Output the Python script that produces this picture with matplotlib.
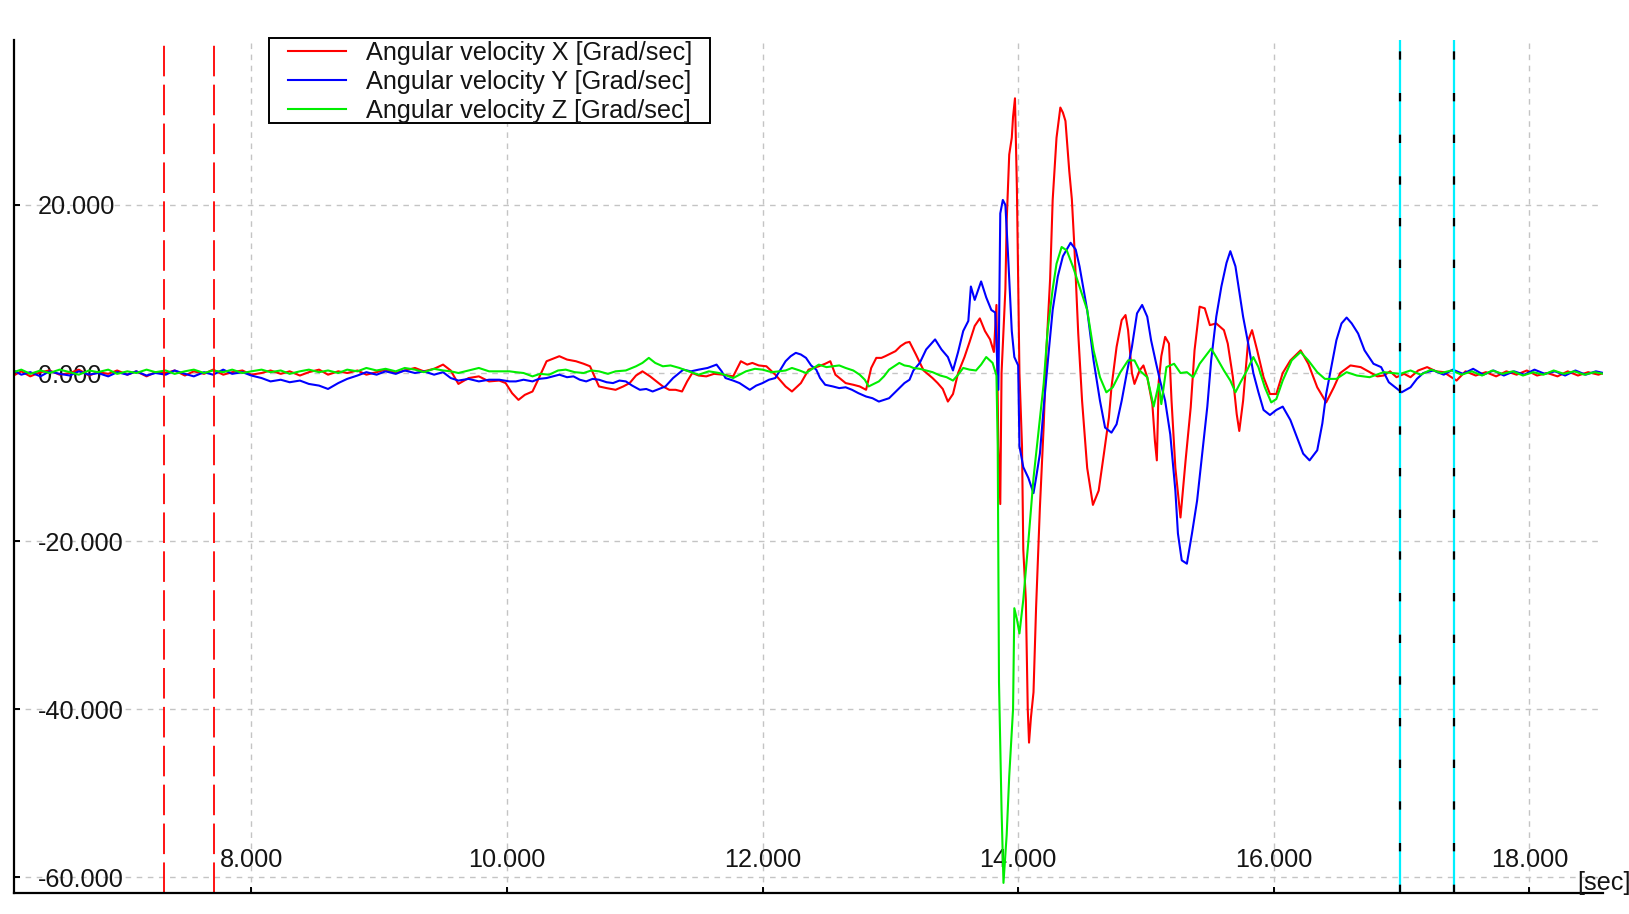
import matplotlib
matplotlib.use("Agg")
import matplotlib.pyplot as plt
from matplotlib.patches import Rectangle

plt.rcParams['font.family'] = ['Liberation Sans', 'DejaVu Sans']
plt.rcParams['lines.scale_dashes'] = False

# ---- data ----
quiet_t = [6.14, 6.20, 6.27, 6.35, 6.42, 6.50, 6.58, 6.65, 6.73, 6.80, 6.88, 6.95, 7.03,
           7.10, 7.18, 7.25, 7.33, 7.40, 7.48, 7.55, 7.63, 7.70, 7.78, 7.85, 7.93, 8.00,
           8.08, 8.15, 8.23, 8.30, 8.38, 8.45, 8.53, 8.60, 8.68, 8.75, 8.83, 8.90, 8.98,
           9.05, 9.13, 9.20, 9.28, 9.35, 9.43, 9.50, 9.56, 9.62, 9.70, 9.78, 9.86, 9.94]

x_quiet = [-0.3, 0.2, -0.4, 0.1, 0.3, -0.2, 0.0, 0.4, -0.3, 0.1, -0.1, 0.3, -0.2,
           0.2, -0.4, 0.1, 0.0, 0.3, -0.3, 0.2, -0.1, 0.4, -0.2, 0.1, 0.3, -0.2,
           0.0, 0.3, -0.1, 0.2, -0.3, 0.1, 0.4, -0.2, 0.2, 0.0, 0.3, -0.2, 0.1,
           0.4, 0.0, 0.3, 0.6, 0.2, 0.5, 1.0, 0.3, -1.3, -0.6, -0.4, -1.0, -0.9]
y_quiet = [0.3, -0.2, 0.1, -0.4, 0.2, -0.1, -0.3, 0.2, -0.2, 0.0, -0.4, 0.1, -0.2,
           0.2, -0.3, 0.0, -0.2, 0.3, -0.1, -0.4, 0.1, -0.2, 0.4, -0.1, 0.1, -0.3,
           -0.6, -1.0, -0.8, -1.1, -0.9, -1.3, -1.5, -1.9, -1.2, -0.7, -0.3, 0.1, -0.2,
           0.2, -0.1, 0.3, 0.0, 0.2, -0.2, 0.1, -0.6, -0.9, -0.7, -1.0, -0.8, -0.8]
z_quiet = [0.1, 0.4, -0.1, 0.3, 0.0, 0.4, 0.1, -0.2, 0.3, 0.1, 0.4, -0.1, 0.2,
           0.0, 0.4, 0.1, 0.3, -0.1, 0.2, 0.4, 0.0, 0.3, 0.1, 0.4, 0.0, 0.2,
           0.4, 0.1, 0.3, -0.1, 0.2, 0.4, 0.1, 0.3, 0.0, 0.4, 0.2, 0.6, 0.3,
           0.5, 0.2, 0.6, 0.4, 0.1, 0.5, 0.3, 0.2, 0.0, 0.3, 0.6, 0.2, 0.2]

x_active_t = [9.99, 10.04, 10.09, 10.14, 10.20, 10.25, 10.31, 10.36, 10.41, 10.47, 10.54, 10.60,
              10.65, 10.72, 10.78, 10.85, 10.91, 10.96, 11.01, 11.06, 11.12, 11.17, 11.22, 11.27,
              11.32, 11.37, 11.41, 11.45, 11.50, 11.56, 11.62, 11.69, 11.77, 11.83, 11.88, 11.92,
              11.97, 12.03, 12.10, 12.14, 12.18, 12.23, 12.30, 12.36, 12.40, 12.44, 12.49, 12.53,
              12.57, 12.61, 12.65, 12.71, 12.76, 12.81, 12.85, 12.89, 12.93, 12.96, 13.00, 13.04,
              13.08, 13.12, 13.15, 13.20, 13.26, 13.33, 13.37, 13.41, 13.45, 13.49, 13.53, 13.58,
              13.62, 13.66, 13.70, 13.74, 13.78, 13.81, 13.83, 13.845, 13.86, 13.87, 13.90, 13.91,
              13.93, 13.95, 13.96, 13.975, 13.99, 14.01, 14.03, 14.04, 14.06, 14.075, 14.085, 14.10,
              14.12, 14.14, 14.17, 14.20, 14.22, 14.25, 14.27, 14.30, 14.33, 14.35, 14.37, 14.40,
              14.42, 14.44, 14.47, 14.50, 14.54, 14.585, 14.63, 14.67, 14.71, 14.73, 14.77, 14.81,
              14.84, 14.86, 14.89, 14.91, 14.95, 14.98, 15.01, 15.05, 15.07, 15.085, 15.10, 15.12,
              15.15, 15.18, 15.20, 15.23, 15.27, 15.31, 15.35, 15.38, 15.42, 15.46, 15.50, 15.55,
              15.61, 15.64, 15.68, 15.71, 15.73, 15.76, 15.80, 15.83, 15.87, 15.92, 15.97, 16.02,
              16.07, 16.13, 16.21, 16.27, 16.34, 16.41, 16.47, 16.52, 16.60, 16.68, 16.75, 16.81,
              16.86, 16.91, 16.96, 17.02, 17.07, 17.13, 17.20, 17.27, 17.33, 17.38, 17.43, 17.50,
              17.58, 17.66, 17.74, 17.82, 17.90, 17.98, 18.06, 18.14, 18.22, 18.30, 18.38, 18.46,
              18.54, 18.58]
x_active = [-1.2, -2.4, -3.2, -2.6, -2.2, -0.6, 1.4, 1.7, 2.0, 1.6, 1.4, 1.1,
            0.8, -1.6, -1.8, -2.0, -1.6, -1.2, -0.3, 0.2, -0.4, -1.0, -1.6, -2.0,
            -2.0, -2.2, -1.0, 0.0, -0.3, -0.4, -0.1, -0.2, -0.4, 1.4, 1.0, 1.2,
            0.9, 0.8, -0.2, -0.9, -1.6, -2.2, -1.2, 0.4, 0.6, 0.8, 1.1, 1.4,
            -0.2, -0.7, -1.2, -1.4, -1.6, -2.0, 0.6, 1.8, 1.8, 2.0, 2.3, 2.6,
            3.2, 3.6, 3.7, 2.2, 0.3, -0.6, -1.2, -1.9, -3.4, -2.5, 0.0, 1.9,
            3.7, 5.6, 6.5, 5.0, 4.0, 2.5, 8.1, -8.7, -15.6, 0.0, 10.0, 18.0,
            26.0, 28.0, 30.5, 32.7, 22.0, 0.0, -8.7, -21.0, -27.0, -40.0, -44.0, -41.0,
            -38.0, -28.0, -16.0, -6.2, 2.5, 11.2, 20.6, 28.0, 31.6, 31.0, 30.0, 24.0,
            20.7, 15.0, 4.7, -3.3, -11.3, -15.7, -14.0, -9.7, -5.3, -1.7, 3.1, 6.3,
            6.9, 5.1, 0.0, -1.3, 0.3, 0.9, -0.5, -3.7, -8.1, -10.4, -1.0, 2.0,
            4.3, 3.5, -3.3, -11.3, -17.2, -10.4, -4.1, 2.7, 7.9, 7.7, 5.7, 5.9,
            5.1, 3.5, -0.5, -4.9, -6.9, -3.3, 3.9, 5.1, 2.7, -0.5, -2.5, -2.5,
            0.0, 1.5, 2.7, 1.1, -1.7, -3.5, -1.7, 0.0, 0.9, 0.7, 0.1, -0.4,
            -0.3, 0.2, -0.5, -0.1, -0.5, 0.3, 0.7, 0.2, 0.1, -0.4, -0.9, 0.2,
            -0.3, 0.1, -0.4, 0.2, -0.2, 0.3, -0.3, 0.0, -0.4, 0.2, -0.3, 0.1,
            -0.2, 0.0]

y_active_t = [10.02, 10.07, 10.13, 10.20, 10.25, 10.31, 10.36, 10.41, 10.47, 10.52, 10.57, 10.62,
              10.67, 10.72, 10.78, 10.83, 10.88, 10.93, 10.98, 11.04, 11.09, 11.14, 11.19, 11.24,
              11.30, 11.38, 11.44, 11.50, 11.57, 11.64, 11.68, 11.71, 11.77, 11.82, 11.86, 11.90,
              11.95, 12.00, 12.05, 12.10, 12.14, 12.18, 12.22, 12.26, 12.30, 12.34, 12.38, 12.42,
              12.45, 12.49, 12.55, 12.60, 12.65, 12.70, 12.75, 12.81, 12.86, 12.91, 12.95, 12.99,
              13.03, 13.07, 13.11, 13.15, 13.18, 13.23, 13.28, 13.35, 13.40, 13.45, 13.49, 13.53,
              13.57, 13.61, 13.63, 13.66, 13.69, 13.71, 13.75, 13.79, 13.82, 13.845, 13.86, 13.88,
              13.90, 13.92, 13.95, 13.97, 14.00, 14.01, 14.04, 14.08, 14.12, 14.14, 14.17, 14.20,
              14.24, 14.27, 14.31, 14.35, 14.41, 14.45, 14.48, 14.54, 14.59, 14.64, 14.68, 14.73,
              14.77, 14.81, 14.85, 14.89, 14.93, 14.97, 15.01, 15.04, 15.08, 15.11, 15.15, 15.19,
              15.23, 15.25, 15.28, 15.32, 15.36, 15.40, 15.44, 15.48, 15.51, 15.55, 15.59, 15.63,
              15.66, 15.70, 15.74, 15.76, 15.80, 15.84, 15.88, 15.92, 15.97, 16.02, 16.07, 16.13,
              16.18, 16.23, 16.28, 16.34, 16.38, 16.41, 16.45, 16.49, 16.53, 16.57, 16.61, 16.66,
              16.71, 16.78, 16.84, 16.90, 16.95, 17.00, 17.07, 17.12, 17.17, 17.25, 17.33, 17.40,
              17.48, 17.56, 17.64, 17.72, 17.80, 17.88, 17.96, 18.04, 18.12, 18.20, 18.28, 18.36,
              18.44, 18.52, 18.58]
y_active = [-1.0, -1.0, -0.8, -1.0, -0.7, -0.6, -0.4, -0.2, -0.5, -0.4, -0.8, -1.0,
            -0.7, -0.8, -1.1, -1.2, -0.9, -1.0, -1.5, -2.0, -1.9, -2.2, -1.9, -1.6,
            -0.6, 0.4, 0.2, 0.4, 0.6, 1.0, 0.2, -0.6, -0.9, -1.2, -1.6, -2.0,
            -1.5, -1.2, -0.8, -0.6, 0.4, 1.4, 2.0, 2.4, 2.2, 1.8, 0.9, 0.4,
            -0.6, -1.4, -1.6, -1.8, -1.7, -2.0, -2.4, -2.8, -3.0, -3.4, -3.2, -3.0,
            -2.4, -1.8, -1.2, -0.8, 0.3, 1.2, 2.8, 4.0, 2.8, 1.9, 0.3, 2.5,
            5.0, 6.2, 10.3, 8.7, 10.0, 10.9, 9.0, 7.5, 7.2, -2.0, 19.0, 20.6,
            20.0, 14.3, 5.0, 1.9, 0.9, -8.7, -11.2, -12.5, -14.3, -12.5, -9.6, -4.0,
            2.7, 7.5, 11.5, 13.9, 15.5, 14.7, 12.7, 7.5, 1.5, -3.3, -6.5, -7.1,
            -6.1, -3.3, 0.0, 3.1, 7.1, 8.1, 6.7, 3.9, 1.1, -0.9, -3.3, -7.3,
            -14.0, -19.1, -22.3, -22.7, -19.1, -15.2, -9.6, -4.0, 1.5, 6.7, 10.3, 13.1,
            14.5, 12.7, 8.7, 6.7, 3.5, 0.0, -2.3, -4.4, -5.0, -4.4, -4.0, -5.6,
            -7.6, -9.6, -10.4, -9.2, -6.0, -2.5, 0.7, 3.9, 5.9, 6.6, 5.9, 4.7,
            2.7, 1.1, 0.7, -1.1, -1.7, -2.3, -1.7, -0.7, 0.0, 0.3, -0.2, 0.4,
            -0.1, 0.5, -0.2, 0.3, -0.3, 0.2, -0.2, 0.4, -0.1, 0.2, -0.3, 0.3,
            -0.2, 0.2, 0.0]

z_active_t = [10.02, 10.07, 10.13, 10.20, 10.26, 10.33, 10.40, 10.46, 10.53, 10.60, 10.66, 10.72,
              10.79, 10.85, 10.93, 11.01, 11.06, 11.11, 11.16, 11.22, 11.28, 11.35, 11.42, 11.50,
              11.58, 11.66, 11.72, 11.77, 11.82, 11.87, 11.94, 12.00, 12.07, 12.13, 12.18, 12.23,
              12.29, 12.34, 12.39, 12.44, 12.50, 12.55, 12.60, 12.65, 12.71, 12.76, 12.80, 12.83,
              12.87, 12.91, 12.95, 12.99, 13.03, 13.07, 13.11, 13.15, 13.18, 13.23, 13.28, 13.33,
              13.39, 13.44, 13.49, 13.53, 13.57, 13.62, 13.67, 13.71, 13.75, 13.80, 13.83, 13.84,
              13.85, 13.87, 13.885, 13.91, 13.93, 13.96, 13.97, 13.99, 14.01, 14.04, 14.08, 14.12,
              14.16, 14.20, 14.23, 14.27, 14.30, 14.34, 14.38, 14.43, 14.48, 14.54, 14.59, 14.64,
              14.69, 14.74, 14.80, 14.86, 14.91, 14.95, 15.01, 15.06, 15.10, 15.12, 15.16, 15.22,
              15.27, 15.32, 15.37, 15.42, 15.48, 15.51, 15.55, 15.61, 15.66, 15.70, 15.74, 15.79,
              15.84, 15.88, 15.93, 15.98, 16.02, 16.07, 16.14, 16.21, 16.27, 16.34, 16.40, 16.49,
              16.57, 16.65, 16.75, 16.86, 16.99, 17.07, 17.15, 17.23, 17.31, 17.39, 17.47, 17.55,
              17.63, 17.71, 17.79, 17.87, 17.95, 18.03, 18.11, 18.19, 18.27, 18.35, 18.43, 18.51,
              18.58]
z_active = [0.2, 0.1, 0.0, -0.4, -0.1, -0.2, 0.3, 0.4, 0.1, 0.0, 0.3, 0.2,
            -0.1, 0.2, 0.3, 0.8, 1.2, 1.8, 1.2, 0.8, 0.9, 0.6, 0.2, -0.2,
            0.2, 0.0, -0.3, -0.6, -0.2, 0.2, 0.5, 0.4, 0.1, 0.2, 0.3, 0.6,
            0.3, 0.0, 0.5, 1.0, 0.7, 0.8, 0.9, 0.6, 0.3, -0.2, -0.8, -1.6,
            -1.3, -1.0, -0.4, 0.4, 0.8, 1.2, 0.9, 0.8, 0.6, 0.5, 0.3, 0.1,
            -0.3, -0.5, -0.9, -0.2, 0.6, 0.4, 0.3, 1.0, 1.9, 1.2, -0.3, -8.7,
            -36.8, -52.0, -60.7, -55.0, -48.0, -40.0, -28.0, -29.3, -31.0, -27.0, -20.0, -12.5,
            -6.9, -1.2, 5.0, 10.0, 13.0, 15.0, 14.6, 12.6, 10.3, 7.5, 2.7, -0.5,
            -2.3, -1.7, 0.1, 1.5, 1.5, 0.3, -0.5, -4.0, -1.3, -3.7, 0.7, 1.1,
            0.0, 0.1, -0.5, 1.1, 2.3, 2.9, 1.9, 0.3, -0.9, -2.3, -1.1, 0.3,
            1.9, 0.7, -1.7, -3.5, -3.1, -0.9, 1.5, 2.5, 1.5, 0.1, -0.7, -0.7,
            0.1, -0.3, -0.5, 0.1, -0.1, 0.3, -0.2, 0.4, 0.0, 0.3, -0.2, 0.2,
            -0.3, 0.3, -0.1, 0.2, -0.3, 0.1, -0.2, 0.3, -0.1, 0.2, -0.2, 0.1,
            -0.1]

red_markers = [7.32, 7.71]
cyan_cursors = [16.99, 17.41]

labels = ["Angular velocity X [Grad/sec]",
          "Angular velocity Y [Grad/sec]",
          "Angular velocity Z [Grad/sec]"]
x_ticks = [8, 10, 12, 14, 16, 18]
y_ticks = [-60, -40, -20, 0, 20]

txt = '#141414'
fs = 18.2
W, H = 1629, 914
fig = plt.figure(figsize=(W / 100, H / 100), dpi=100)
ax = fig.add_axes([13.5 / W, 1 - 893 / H, (1603 - 13.5) / W, (893 - 39.5) / H])

ax.plot(quiet_t + x_active_t, x_quiet + x_active, color='#ff0000', lw=1.5, label=labels[0])
ax.plot(quiet_t + y_active_t, y_quiet + y_active, color='#0000ff', lw=1.5, label=labels[1])
ax.plot(quiet_t + z_active_t, z_quiet + z_active, color='#00ee00', lw=1.5, label=labels[2])

for t in red_markers:
    ax.axvline(t, color='#ff0000', lw=1.3, dashes=(22, 6))
for t in cyan_cursors:
    ax.axvline(t, color='#00f0ff', lw=1.6)
    ax.axvline(t, color='black', lw=1.6, dashes=(6, 24), dash_capstyle='butt')

ax.set_xlim(6.139, 18.576)
ax.set_ylim(-61.9, 39.7)

ax.set_xticks(x_ticks)
ax.set_xticklabels(['%.3f' % v for v in x_ticks])
ax.set_yticks(y_ticks)
ax.set_yticklabels(['%.3f' % v for v in y_ticks])

ax.grid(True, color='#c4c4c4', lw=1.0, dashes=(4, 4))
ax.set_axisbelow(True)

for s in ['top', 'right']:
    ax.spines[s].set_visible(False)
for s in ['left', 'bottom']:
    ax.spines[s].set_linewidth(1.6)
    ax.spines[s].set_color('black')

ax.tick_params(axis='both', direction='in', length=4, width=1.4, labelsize=fs, labelcolor=txt)
ax.tick_params(axis='y', pad=-17.3)
ax.tick_params(axis='x', pad=-18.7)
for lbl in ax.get_yticklabels():
    lbl.set_ha('left')
for lbl in ax.get_xticklabels():
    lbl.set_va('baseline')

# legend frame drawn separately: the original has wide side padding but tight top/bottom
fig.add_artist(Rectangle((269 / W, 1 - 123 / H), 441 / W, 85 / H, transform=fig.transFigure,
                         facecolor='white', edgecolor='black', lw=1.4, zorder=4))
leg = fig.legend(loc='upper left', bbox_to_anchor=(288 / W, 1 - 41 / H), fontsize=fs,
                 frameon=False, labelspacing=0.2, handlelength=2.29, handletextpad=0.79,
                 borderpad=0.0, borderaxespad=0.0)
leg.set_zorder(5)
for t in leg.get_texts():
    t.set_color(txt)

fig.text(1577 / W, 1 - 883 / H, '[sec]', fontsize=fs, color=txt, ha='left', va='center')

fig.savefig('out.png', dpi=100)
